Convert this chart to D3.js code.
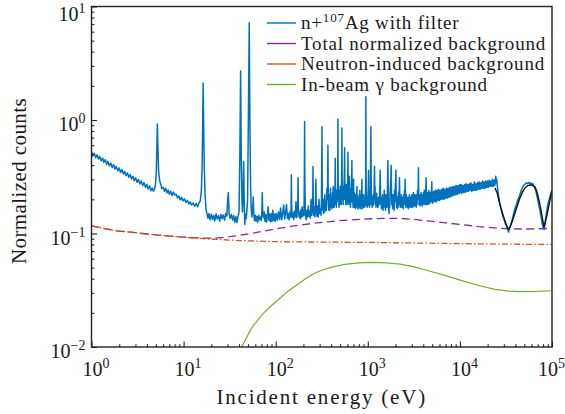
<!DOCTYPE html>
<html><head><meta charset="utf-8">
<script src="https://cdn.jsdelivr.net/npm/d3@7"></script>
<style>
body{margin:0;background:#fff}
svg{display:block}
</style>
</head><body>
<svg id="c" width="565" height="414" font-family="Liberation Serif, serif" style="font-family:'Liberation Serif',serif"></svg>
<script>
// ---------- data ----------
const xTickValues = [1, 10, 100, 1e3, 1e4, 1e5];
const xTickExps = ["0", "1", "2", "3", "4", "5"];
const yTickValues = [0.01, 0.1, 1, 10];
const yTickExps = ["\u22122", "\u22121", "0", "1"];

const legendLabels = ["n+|107|Ag with filter", "Total normalized background", "Neutron-induced background", "In-beam \u03b3 background"];
const legendColors = ["#0072BD", "#7E2F8E", "#D95319", "#77AC30"];

// Neutron-induced background [E (eV), counts]
const neutronBg = [[1,0.117],[1.5,0.109],[2,0.105],[2.84,0.1025],[4,0.099],[6,0.096],[9.9,0.0926],[15,0.0905],[21,0.089],[32,0.0875],[50,0.0862],[102,0.0847],[300,0.084],[1000,0.0835],[3000,0.0825],[1e4,0.0815],[3e4,0.0806],[1e5,0.080]];
// Total normalized background
const totalBg = [[1,0.117],[1.5,0.109],[2,0.105],[2.84,0.1025],[4,0.099],[6,0.096],[9.9,0.093],[15,0.0912],[21,0.0908],[32,0.0937],[50,0.099],[70,0.104],[94,0.109],[150,0.116],[256,0.123],[450,0.129],[893,0.134],[1500,0.136],[2238,0.136],[3200,0.133],[4540,0.129],[7000,0.124],[10500,0.120],[16000,0.115],[24000,0.112],[35000,0.110],[50000,0.1095],[70000,0.110],[1e5,0.111]];
// In-beam gamma background
const gammaBg = [[40,0.0092],[42.7,0.010],[55,0.0148],[73.3,0.0198],[90,0.0232],[111,0.0269],[135,0.0308],[169,0.0352],[205,0.0393],[256,0.044],[310,0.0472],[389,0.050],[480,0.0522],[590,0.0538],[800,0.0552],[1148,0.0557],[1600,0.0552],[2238,0.0538],[3200,0.0508],[4540,0.047],[7000,0.0425],[10500,0.0384],[16000,0.0348],[24000,0.0322],[34000,0.0311],[46900,0.0307],[70000,0.0309],[99300,0.0313]];
// Fit curve (black) in the high-energy region
const fitCurve = [[24060,0.252],[25500,0.225],[27300,0.178],[28700,0.155],[30100,0.137],[31800,0.12],[33550,0.109],[35000,0.114],[36800,0.126],[38600,0.142],[40600,0.161],[42700,0.183],[44900,0.206],[47800,0.232],[50900,0.252],[54200,0.263],[57700,0.268],[61500,0.265],[65400,0.257],[68000,0.238],[70500,0.214],[73200,0.186],[75900,0.161],[79000,0.134],[81900,0.114],[85000,0.128],[88300,0.146],[91600,0.17],[95100,0.197],[100000,0.237]];

// Measured spectrum, 1 - 100 eV
const spectrumLow = [[1.00,0.525],[1.035,0.482],[1.07,0.51],[1.11,0.466],[1.15,0.494],[1.19,0.452],[1.23,0.478],[1.27,0.437],[1.32,0.462],[1.36,0.423],[1.41,0.447],[1.46,0.408],[1.51,0.432],[1.56,0.395],[1.62,0.418],[1.68,0.381],[1.74,0.404],[1.80,0.369],[1.86,0.39],[1.93,0.357],[2.00,0.378],[2.07,0.345],[2.14,0.366],[2.22,0.334],[2.29,0.354],[2.37,0.323],[2.46,0.342],[2.54,0.313],[2.63,0.331],[2.72,0.302],[2.82,0.32],[2.92,0.292],[3.02,0.31],[3.13,0.282],[3.24,0.3],[3.35,0.273],[3.47,0.29],[3.59,0.264],[3.72,0.281],[3.85,0.255],[3.98,0.272],[4.12,0.247],[4.27,0.262],[4.42,0.238],[4.57,0.252],[4.7,0.236],[4.82,0.244],[4.95,0.27],[5.05,0.34],[5.12,0.55],[5.19,0.92],[5.26,0.58],[5.35,0.36],[5.5,0.29],[5.65,0.272],[5.8,0.25],[6.0,0.255],[6.2,0.236],[6.4,0.25],[6.6,0.228],[6.8,0.242],[7.0,0.222],[7.25,0.236],[7.5,0.216],[7.75,0.232],[8.0,0.218],[8.3,0.222],[8.6,0.206],[8.9,0.214],[9.2,0.198],[9.5,0.208],[9.85,0.194],[10.2,0.202],[10.6,0.188],[11.0,0.196],[11.4,0.182],[11.8,0.19],[12.2,0.178],[12.7,0.186],[13.2,0.174],[13.7,0.184],[14.2,0.172],[14.7,0.186],[15.2,0.195],[15.6,0.24],[15.9,0.4],[16.1,0.9],[16.3,2.12],[16.5,0.95],[16.75,0.4],[17.1,0.22],[17.5,0.165],[17.9,0.15],[18.4,0.136],[18.9,0.15],[19.4,0.132],[20.0,0.148],[20.6,0.133],[21.2,0.145],[21.8,0.129],[22.5,0.149],[23.2,0.134],[23.9,0.144],[24.6,0.128],[25.4,0.147],[26.2,0.135],[27.0,0.146],[27.8,0.131],[28.7,0.15],[29.5,0.142],[30.0,0.19],[30.6,0.23],[31.2,0.15],[32.0,0.136],[33.0,0.147],[34.0,0.131],[35.0,0.144],[36.0,0.126],[37.0,0.141],[38.0,0.125],[39.0,0.142],[40.0,0.155],[40.8,0.5],[41.6,2.7],[42.3,0.45],[43.0,0.2],[43.6,0.155],[44.2,0.22],[44.9,0.43],[45.5,0.2],[46.2,0.12],[47.0,0.148],[47.8,0.135],[48.7,0.16],[49.5,0.2],[50.5,1.0],[51.6,7.2],[52.5,0.9],[53.3,0.28],[54.2,0.165],[55.2,0.14],[56.2,0.16],[57.0,0.21],[57.8,0.15],[58.8,0.13],[60.0,0.145],[61.3,0.128],[62.6,0.142],[64.0,0.126],[65.4,0.145],[66.8,0.132],[68.2,0.14],[69.7,0.13],[70.8,0.16],[71.5,0.23],[72.3,0.15],[73.6,0.138],[75.0,0.155],[76.5,0.128],[78.0,0.147],[79.6,0.126],[81.2,0.143],[82.8,0.172],[84.4,0.13],[86.0,0.148],[87.7,0.127],[89.4,0.15],[91.2,0.128],[93.0,0.16],[95.0,0.13],[97.0,0.148],[99.0,0.128]];
// Measured spectrum, 100 eV - 1.2 keV
const spectrumMid = [[101,0.15],[104,0.131],[107,0.155],[110,0.133],[113,0.168],[116,0.132],[119,0.15],[122,0.178],[125,0.134],[128,0.152],[131,0.18],[134,0.136],[137,0.15],[140,0.132],[143,0.155],[146,0.14],[147.2,0.2],[148,0.33],[149,0.18],[151,0.138],[154,0.152],[157,0.133],[160,0.158],[163,0.14],[166,0.19],[169,0.138],[172,0.16],[174,0.2],[175,0.31],[176.5,0.17],[179,0.14],[182,0.155],[185,0.135],[188,0.162],[191,0.14],[194,0.172],[197,0.142],[200,0.16],[203,0.145],[204.8,0.35],[206,0.97],[207.3,0.3],[210,0.15],[214,0.132],[218,0.16],[222,0.14],[226,0.175],[230,0.142],[234,0.158],[238,0.137],[242,0.2],[246,0.145],[250,0.165],[252.5,0.2],[254,0.39],[255.5,0.2],[258,0.145],[262,0.17],[266,0.14],[270,0.18],[273,0.3],[276,0.16],[280,0.142],[285,0.175],[290,0.14],[295,0.2],[300,0.15],[305,0.165],[310,0.145],[314,0.2],[316.5,0.4],[318,0.87],[319.5,0.35],[322,0.16],[326,0.18],[330,0.15],[334,0.2],[338,0.155],[342,0.22],[346,0.158],[350,0.18],[355,0.16],[360,0.25],[364,0.2],[367,0.3],[369,0.6],[371,0.28],[374,0.18],[378,0.16],[383,0.22],[388,0.16],[393,0.25],[398,0.17],[403,0.2],[408,0.165],[413,0.23],[417,0.18],[420,0.26],[424,0.17],[428,0.21],[432,0.17],[436,0.25],[439,0.2],[441.5,0.3],[443,0.46],[444.5,0.25],[448,0.18],[452,0.23],[456,0.17],[460,0.24],[465,0.19],[469,0.22],[472,0.4],[474,1.02],[476,0.35],[479,0.2],[483,0.24],[487,0.17],[491,0.22],[496,0.18],[501,0.26],[506,0.19],[511,0.23],[515,0.18],[519,0.3],[522,0.45],[524,0.85],[526,0.35],[530,0.2],[535,0.26],[540,0.18],[545,0.24],[549,0.2],[553,0.28],[557,0.35],[560,0.57],[563,0.3],[567,0.2],[572,0.25],[577,0.18],[582,0.27],[587,0.19],[592,0.23],[597,0.18],[602,0.25],[606,0.32],[609,0.52],[612,0.27],[616,0.19],[620,0.24],[625,0.18],[629,0.26],[632,0.32],[635,0.22],[640,0.18],[645,0.23],[650,0.17],[655,0.25],[660,0.19],[665,0.27],[669,0.3],[672,0.44],[675,0.26],[680,0.19],[686,0.22],[692,0.17],[697,0.24],[700,0.3],[704,0.2],[710,0.17],[716,0.23],[722,0.17],[728,0.21],[735,0.165],[742,0.22],[749,0.17],[756,0.2],[762,0.26],[768,0.18],[775,0.21],[782,0.165],[790,0.2],[798,0.165],[806,0.22],[814,0.18],[820,0.24],[826,0.17],[833,0.2],[840,0.165],[848,0.22],[856,0.18],[863,0.3],[870,0.19],[878,0.165],[886,0.2],[894,0.17],[902,0.22],[910,0.175],[918,0.21],[926,0.17],[934,0.2],[942,0.18],[948,0.3],[953,1.6],[958,0.35],[964,0.2],[970,0.175],[977,0.21],[984,0.17],[991,0.2],[998,0.175],[1005,0.22],[1012,0.25],[1018,0.36],[1024,0.22],[1031,0.18],[1038,0.2],[1045,0.17],[1052,0.21],[1060,0.18],[1068,0.3],[1074,0.5],[1080,0.87],[1086,0.4],[1093,0.2],[1100,0.18],[1108,0.21],[1116,0.17],[1125,0.2],[1134,0.175],[1143,0.22],[1152,0.18],[1162,0.21],[1172,0.25],[1183,0.39],[1193,0.22]];
// Measured spectrum, 1.2 - 10 keV
const spectrumHigh = [[1200,0.26],[1208,0.18],[1218,0.2],[1228,0.17],[1238,0.2],[1250,0.226],[1260,0.18],[1270,0.2],[1282,0.17],[1294,0.205],[1306,0.175],[1318,0.21],[1330,0.18],[1342,0.22],[1352,0.26],[1362,0.36],[1372,0.25],[1384,0.18],[1396,0.21],[1410,0.165],[1424,0.2],[1438,0.17],[1452,0.22],[1466,0.16],[1480,0.2],[1495,0.17],[1510,0.24],[1525,0.18],[1540,0.2],[1556,0.16],[1572,0.22],[1588,0.17],[1604,0.2],[1620,0.17],[1636,0.26],[1652,0.44],[1668,0.24],[1684,0.17],[1700,0.15],[1716,0.2],[1733,0.17],[1750,0.23],[1766,0.28],[1782,0.3],[1794,0.4],[1806,0.25],[1822,0.18],[1840,0.21],[1858,0.165],[1876,0.22],[1895,0.17],[1914,0.2],[1933,0.16],[1952,0.24],[1971,0.19],[1990,0.25],[2005,0.3],[2018,0.36],[2032,0.22],[2050,0.17],[2070,0.21],[2090,0.165],[2110,0.2],[2130,0.17],[2150,0.23],[2170,0.18],[2190,0.22],[2209,0.31],[2228,0.2],[2250,0.17],[2272,0.21],[2295,0.17],[2318,0.22],[2340,0.18],[2363,0.21],[2386,0.17],[2410,0.2],[2434,0.165],[2458,0.22],[2482,0.18],[2506,0.24],[2527,0.22],[2547,0.3],[2568,0.2],[2593,0.17],[2619,0.22],[2645,0.18],[2671,0.21],[2698,0.17],[2725,0.2],[2752,0.165],[2780,0.21],[2808,0.18],[2836,0.22],[2864,0.17],[2893,0.2],[2922,0.175],[2951,0.21],[2980,0.17],[3010,0.22],[3040,0.18],[3070,0.2],[3101,0.17],[3132,0.23],[3163,0.18],[3195,0.21],[3227,0.175],[3260,0.22],[3292,0.18],[3325,0.21],[3358,0.17],[3392,0.22],[3426,0.18],[3460,0.24],[3495,0.2],[3525,0.26],[3549,0.38],[3575,0.22],[3610,0.18],[3646,0.21],[3682,0.175],[3719,0.22],[3756,0.18],[3794,0.23],[3832,0.18],[3870,0.21],[3909,0.175],[3948,0.22],[3987,0.19],[4027,0.23],[4067,0.18],[4108,0.24],[4149,0.19],[4190,0.22],[4232,0.18],[4265,0.24],[4298,0.31],[4330,0.2],[4370,0.18],[4414,0.23],[4458,0.19],[4503,0.22],[4548,0.18],[4593,0.24],[4639,0.19],[4686,0.22],[4733,0.185],[4780,0.23],[4828,0.19],[4876,0.22],[4925,0.24],[4954,0.285],[4990,0.2],[5040,0.185],[5090,0.23],[5141,0.19],[5193,0.235],[5245,0.195],[5297,0.22],[5350,0.19],[5404,0.24],[5458,0.195],[5512,0.23],[5567,0.19],[5623,0.24],[5680,0.2],[5736,0.23],[5794,0.195],[5852,0.245],[5910,0.2],[5969,0.235],[6029,0.195],[6089,0.24],[6150,0.2],[6211,0.23],[6273,0.2],[6336,0.245],[6400,0.205],[6464,0.24],[6528,0.2],[6594,0.25],[6660,0.205],[6726,0.235],[6793,0.2],[6861,0.245],[6930,0.21],[7000,0.24],[7070,0.205],[7140,0.25],[7211,0.21],[7284,0.24],[7356,0.205],[7430,0.25],[7504,0.21],[7579,0.245],[7655,0.21],[7732,0.255],[7809,0.215],[7887,0.245],[7966,0.21],[8045,0.255],[8126,0.215],[8207,0.25],[8289,0.22],[8372,0.26],[8456,0.215],[8540,0.25],[8626,0.22],[8712,0.26],[8799,0.22],[8887,0.255],[8976,0.22],[9066,0.265],[9156,0.225],[9248,0.26],[9340,0.22],[9434,0.265],[9528,0.225],[9623,0.26],[9720,0.23],[9817,0.265],[9915,0.225]];
// Measured spectrum, 10 - 100 keV
const spectrumTop = [[10010,0.27],[10110,0.23],[10320,0.27],[10530,0.225],[10750,0.265],[10970,0.23],[11200,0.27],[11430,0.23],[11670,0.275],[11910,0.235],[12160,0.27],[12410,0.235],[12670,0.275],[12930,0.24],[13200,0.28],[13470,0.235],[13750,0.27],[14040,0.24],[14330,0.285],[14630,0.24],[14930,0.275],[15240,0.24],[15560,0.28],[15880,0.245],[16210,0.285],[16550,0.245],[16890,0.28],[17240,0.25],[17600,0.29],[17970,0.25],[18340,0.285],[18720,0.25],[19110,0.29],[19510,0.255],[19910,0.29],[20330,0.255],[20750,0.295],[21180,0.26],[21620,0.29],[22070,0.26],[22530,0.3],[23000,0.26],[23480,0.295],[23960,0.265],[24460,0.32],[24800,0.28],[25100,0.3],[25500,0.26],[26200,0.22],[26900,0.19],[27500,0.175],[28200,0.16],[29000,0.145],[29800,0.138],[30600,0.128],[31400,0.12],[32300,0.115],[33100,0.108],[33800,0.103],[34600,0.11],[35400,0.118],[36300,0.125],[37200,0.135],[38200,0.148],[39100,0.16],[40100,0.17],[41100,0.18],[42200,0.195],[43300,0.205],[44400,0.215],[45600,0.23],[46800,0.245],[48000,0.255],[49200,0.265],[50500,0.27],[51800,0.275],[53100,0.28],[54500,0.275],[55900,0.282],[57400,0.272],[58900,0.28],[60400,0.27],[62000,0.275],[63600,0.26],[65200,0.25],[66900,0.235],[68600,0.215],[70400,0.195],[72200,0.175],[74100,0.16],[76000,0.14],[78000,0.125],[80000,0.112],[82000,0.108],[84100,0.125],[86300,0.145],[88500,0.165],[90800,0.185],[93200,0.2],[95600,0.215],[98000,0.23],[100000,0.24]];

// ---------- drawing ----------
const FONT = "'Liberation Serif', 'Times New Roman', Times, serif";
const spectrum = spectrumLow.concat(spectrumMid, spectrumHigh, spectrumTop);
const svg = d3.select("#c");
const x = d3.scaleLog().domain([1, 1e5]).range([91.5, 552]);
const y = d3.scaleLog().domain([1e-2, 1e1]).range([347, 6.5]);

svg.append("defs").append("clipPath").attr("id", "clip")
  .append("rect").attr("x", x.range()[0]).attr("y", y.range()[1])
  .attr("width", x.range()[1] - x.range()[0]).attr("height", y.range()[0] - y.range()[1]);

const line = d3.line().x(d => x(d[0])).y(d => y(d[1]));
const plot = svg.append("g").attr("clip-path", "url(#clip)");

plot.append("path").datum(totalBg).attr("d", line).attr("fill", "none")
  .attr("stroke", legendColors[1]).attr("stroke-width", 1.3).attr("stroke-dasharray", "8,4.5");
plot.append("path").datum(neutronBg).attr("d", line).attr("fill", "none")
  .attr("stroke", legendColors[2]).attr("stroke-width", 1.3).attr("stroke-dasharray", "6,2.3,1.5,2.3");
plot.append("path").datum(gammaBg).attr("d", line).attr("fill", "none")
  .attr("stroke", legendColors[3]).attr("stroke-width", 1.2);
plot.append("path").datum(spectrum).attr("d", line).attr("fill", "none")
  .attr("stroke", legendColors[0]).attr("stroke-width", 1.5).attr("stroke-linejoin", "round");
plot.append("path").datum(fitCurve).attr("d", line).attr("fill", "none")
  .attr("stroke", "#111").attr("stroke-width", 1.4);

// axes
const xMinor = [], yMinor = [];
xTickValues.slice(0, -1).forEach(v => { for (let k = 2; k < 10; k++) xMinor.push(v * k); });
yTickValues.slice(0, -1).forEach(v => { for (let k = 2; k < 10; k++) yMinor.push(v * k); });

const axisColor = "#222";
function styleAxis(g) { g.select(".domain").remove(); g.selectAll("line").attr("stroke", axisColor).attr("stroke-width", 1.1); }

svg.append("g").attr("transform", `translate(0,${y.range()[0]})`)
  .call(d3.axisBottom(x).tickValues(xMinor).tickSize(-2.8).tickFormat(() => "")).call(styleAxis);
const gx = svg.append("g").attr("transform", `translate(0,${y.range()[0]})`)
  .call(d3.axisBottom(x).tickValues(xTickValues).tickSize(-5.5).tickFormat(() => "")).call(styleAxis);
svg.append("g").attr("transform", `translate(${x.range()[0]},0)`)
  .call(d3.axisLeft(y).tickValues(yMinor).tickSize(-2.8).tickFormat(() => "")).call(styleAxis);
const gy = svg.append("g").attr("transform", `translate(${x.range()[0]},0)`)
  .call(d3.axisLeft(y).tickValues(yTickValues).tickSize(-5.5).tickFormat(() => "")).call(styleAxis);

// tick labels with superscript exponents
gx.selectAll(".tick text").each(function (d, i) {
  const last = i === xTickValues.length - 1;
  const t = d3.select(this).text("").attr("y", 0).attr("dy", null)
    .attr("transform", last ? "translate(-1,29)" : "translate(4,29)")
    .attr("text-anchor", "middle").attr("font-family", FONT).style("font-family", FONT)
    .style("font-size", "20px").attr("fill", "#1a1a1a");
  t.append("tspan").text("10");
  t.append("tspan").attr("dy", -8).style("font-size", "14px").text(xTickExps[i]);
});
gy.selectAll(".tick text").each(function (d, i) {
  const top = i === yTickValues.length - 1;
  const t = d3.select(this).text("").attr("x", -6).attr("dy", null)
    .attr("transform", top ? "translate(0,14)" : "translate(0,10.5)").attr("text-anchor", "end")
    .attr("font-family", FONT).style("font-family", FONT)
    .style("font-size", "20px").attr("fill", "#1a1a1a");
  t.append("tspan").text("10");
  t.append("tspan").attr("dy", -8).style("font-size", "14px").text(yTickExps[i]);
});

// frame
svg.append("rect").attr("x", x.range()[0]).attr("y", y.range()[1])
  .attr("width", x.range()[1] - x.range()[0]).attr("height", y.range()[0] - y.range()[1])
  .attr("fill", "none").attr("stroke", axisColor).attr("stroke-width", 1.4);

// axis titles
svg.append("text").attr("x", (x.range()[0] + x.range()[1]) / 2).attr("y", 404)
  .attr("text-anchor", "middle").style("font-family", FONT).style("font-size", "21px").style("letter-spacing", "1.8px")
  .attr("fill", "#1a1a1a").text("Incident energy (eV)");
svg.append("text").attr("transform", "translate(26,181) rotate(-90)")
  .attr("text-anchor", "middle").style("font-family", FONT).style("font-size", "21px").style("letter-spacing", "0.4px")
  .attr("fill", "#1a1a1a").text("Normalized counts");

// legend
const leg = svg.append("g");
legendLabels.forEach((lab, i) => {
  const yy = 23 + i * 20.5;
  leg.append("line").attr("x1", 267).attr("x2", 296).attr("y1", yy).attr("y2", yy)
    .attr("stroke", legendColors[i]).attr("stroke-width", 1.4);
  const t = leg.append("text").attr("x", 301).attr("y", yy + 6).attr("fill", "#1a1a1a")
    .style("font-family", FONT).style("font-size", "19px").style("letter-spacing", "0.8px");
  const parts = lab.split("|");
  if (parts.length === 3) {
    t.append("tspan").text(parts[0]);
    t.append("tspan").attr("dy", -7).style("font-size", "13px").text(parts[1]);
    t.append("tspan").attr("dy", 7).text(parts[2]);
  } else {
    t.text(lab);
  }
});
</script>
</body></html>
